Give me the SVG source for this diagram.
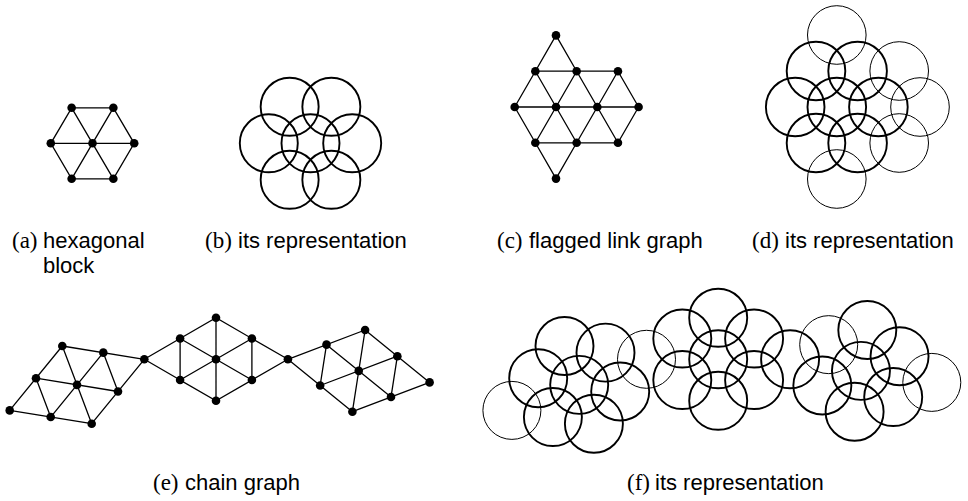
<svg xmlns="http://www.w3.org/2000/svg" width="968" height="501" viewBox="0 0 968 501">
<style>
.e{stroke:#000;stroke-width:1.3;fill:none}
.n{fill:#000}
.cb{fill:none;stroke:#000;stroke-width:1.9}
.ct{fill:none;stroke:#000;stroke-width:1}
.lab{font-family:"Liberation Serif",serif;font-size:23px;fill:#000}
.cap{font-family:"Liberation Sans",Arial,sans-serif;font-size:22px;fill:#000}
</style>
<rect width="968" height="501" fill="#fff"/>

<!-- (a) hexagonal block -->
<g id="a-connectors">
<path class="e" d="M71.65,107.8L113.35,107.8L134.2,143.3L113.35,178.8L71.65,178.8L50.8,143.3Z M92.5,143.3L71.65,107.8 M92.5,143.3L113.35,107.8 M50.8,143.3L134.2,143.3 M92.5,143.3L71.65,178.8 M92.5,143.3L113.35,178.8"/>
</g>
<g id="a-nodes">
<g id="a-n0"><circle class="n" cx="92.5" cy="143.3" r="4.3"/></g>
<g id="a-n1"><circle class="n" cx="71.65" cy="107.8" r="4.3"/></g>
<g id="a-n2"><circle class="n" cx="113.35" cy="107.8" r="4.3"/></g>
<g id="a-n3"><circle class="n" cx="134.2" cy="143.3" r="4.3"/></g>
<g id="a-n4"><circle class="n" cx="113.35" cy="178.8" r="4.3"/></g>
<g id="a-n5"><circle class="n" cx="71.65" cy="178.8" r="4.3"/></g>
<g id="a-n6"><circle class="n" cx="50.8" cy="143.3" r="4.3"/></g>
</g>

<!-- (b) representation -->
<g id="b-circles">
<g id="b-c0"><circle class="cb" cx="310.5" cy="143.3" r="29"/></g>
<g id="b-c1"><circle class="cb" cx="289.65" cy="106.8" r="29"/></g>
<g id="b-c2"><circle class="cb" cx="331.35" cy="106.8" r="29"/></g>
<g id="b-c3"><circle class="cb" cx="352.2" cy="143.3" r="29"/></g>
<g id="b-c4"><circle class="cb" cx="331.35" cy="179.8" r="29"/></g>
<g id="b-c5"><circle class="cb" cx="289.65" cy="179.8" r="29"/></g>
<g id="b-c6"><circle class="cb" cx="268.8" cy="143.3" r="29"/></g>
</g>

<!-- (c) flagged link graph -->
<g id="c-connectors">
<path class="e" d="M556,35.4L535.35,71.2 M556,35.4L576.65,71.2
M535.35,71.2L617.95,71.2
M535.35,71.2L514.7,107 M535.35,71.2L556,107 M576.65,71.2L556,107 M576.65,71.2L597.3,107 M617.95,71.2L597.3,107 M617.95,71.2L638.6,107
M514.7,107L638.6,107
M514.7,107L535.35,142.8 M556,107L535.35,142.8 M556,107L576.65,142.8 M597.3,107L576.65,142.8 M597.3,107L617.95,142.8 M638.6,107L617.95,142.8
M535.35,142.8L617.95,142.8
M535.35,142.8L556,178.6 M576.65,142.8L556,178.6"/>
</g>
<g id="c-nodes">
<g id="c-n1"><circle class="n" cx="556" cy="35.4" r="4.3"/></g>
<g id="c-n2"><circle class="n" cx="535.35" cy="71.2" r="4.3"/></g>
<g id="c-n3"><circle class="n" cx="576.65" cy="71.2" r="4.3"/></g>
<g id="c-n4"><circle class="n" cx="617.95" cy="71.2" r="4.3"/></g>
<g id="c-n5"><circle class="n" cx="514.7" cy="107" r="4.3"/></g>
<g id="c-n6"><circle class="n" cx="556" cy="107" r="4.3"/></g>
<g id="c-n7"><circle class="n" cx="597.3" cy="107" r="4.3"/></g>
<g id="c-n8"><circle class="n" cx="638.6" cy="107" r="4.3"/></g>
<g id="c-n9"><circle class="n" cx="535.35" cy="142.8" r="4.3"/></g>
<g id="c-n10"><circle class="n" cx="576.65" cy="142.8" r="4.3"/></g>
<g id="c-n11"><circle class="n" cx="617.95" cy="142.8" r="4.3"/></g>
<g id="c-n12"><circle class="n" cx="556" cy="178.6" r="4.3"/></g>
</g>

<!-- (d) representation -->
<g id="d-circles">
<g id="d-c1"><circle class="ct" cx="836.8" cy="35" r="29.3"/></g>
<g id="d-c2"><circle class="cb" cx="816" cy="71" r="29.3"/></g>
<g id="d-c3"><circle class="cb" cx="857.6" cy="71" r="29.3"/></g>
<g id="d-c4"><circle class="ct" cx="899.2" cy="71" r="29.3"/></g>
<g id="d-c5"><circle class="cb" cx="795.2" cy="107" r="29.3"/></g>
<g id="d-c6"><circle class="cb" cx="836.8" cy="107" r="29.3"/></g>
<g id="d-c7"><circle class="cb" cx="878.4" cy="107" r="29.3"/></g>
<g id="d-c8"><circle class="ct" cx="920" cy="107" r="29.3"/></g>
<g id="d-c9"><circle class="cb" cx="816" cy="143" r="29.3"/></g>
<g id="d-c10"><circle class="cb" cx="857.6" cy="143" r="29.3"/></g>
<g id="d-c11"><circle class="ct" cx="899.2" cy="143" r="29.3"/></g>
<g id="d-c12"><circle class="ct" cx="836.8" cy="179" r="29.3"/></g>
</g>

<!-- (e) chain graph -->
<g id="e-connectors">
<path class="e" d="M62.3,346L144.3,359.3 M36,378.2L118,391.5 M9.7,410.4L91.7,423.7
M62.3,346L9.7,410.4 M103.3,352.65L50.7,417.05 M144.3,359.3L91.7,423.7
M62.3,346L77,384.85 M103.3,352.65L118,391.5 M36,378.2L50.7,417.05 M77,384.85L91.7,423.7
M144.3,359.3L180.1,338.55 M144.3,359.3L180.1,380.05
M180.1,338.55L216,317.8L251.9,338.55L251.9,380.05L216,400.8L180.1,380.05Z
M216,317.8L216,400.8 M180.1,338.55L251.9,380.05 M180.1,380.05L251.9,338.55
M251.9,338.55L287.9,359.3 M251.9,380.05L287.9,359.3
M287.9,359.3L365.1,330 M320.15,385.5L397.35,356.2 M352.4,411.7L429.6,382.4
M287.9,359.3L352.4,411.7 M326.5,344.65L391,397.05 M365.1,330L429.6,382.4
M326.5,344.65L320.15,385.5 M365.1,330L352.4,411.7 M397.35,356.2L391,397.05"/>
</g>
<g id="e-nodes">
<g id="e-a1"><circle class="n" cx="62.3" cy="346" r="4.3"/></g>
<g id="e-a2"><circle class="n" cx="103.3" cy="352.65" r="4.3"/></g>
<g id="e-b"><circle class="n" cx="144.3" cy="359.3" r="4.3"/></g>
<g id="e-a3"><circle class="n" cx="36" cy="378.2" r="4.3"/></g>
<g id="e-a4"><circle class="n" cx="77" cy="384.85" r="4.3"/></g>
<g id="e-a5"><circle class="n" cx="118" cy="391.5" r="4.3"/></g>
<g id="e-a6"><circle class="n" cx="9.7" cy="410.4" r="4.3"/></g>
<g id="e-a7"><circle class="n" cx="50.7" cy="417.05" r="4.3"/></g>
<g id="e-a8"><circle class="n" cx="91.7" cy="423.7" r="4.3"/></g>
<g id="e-h0"><circle class="n" cx="216" cy="359.3" r="4.3"/></g>
<g id="e-h1"><circle class="n" cx="216" cy="317.8" r="4.3"/></g>
<g id="e-h2"><circle class="n" cx="251.9" cy="338.55" r="4.3"/></g>
<g id="e-h3"><circle class="n" cx="251.9" cy="380.05" r="4.3"/></g>
<g id="e-h4"><circle class="n" cx="216" cy="400.8" r="4.3"/></g>
<g id="e-h5"><circle class="n" cx="180.1" cy="380.05" r="4.3"/></g>
<g id="e-h6"><circle class="n" cx="180.1" cy="338.55" r="4.3"/></g>
<g id="e-c2"><circle class="n" cx="287.9" cy="359.3" r="4.3"/></g>
<g id="e-d1"><circle class="n" cx="326.5" cy="344.65" r="4.3"/></g>
<g id="e-d2"><circle class="n" cx="365.1" cy="330" r="4.3"/></g>
<g id="e-d3"><circle class="n" cx="320.15" cy="385.5" r="4.3"/></g>
<g id="e-d4"><circle class="n" cx="358.75" cy="370.85" r="4.3"/></g>
<g id="e-d5"><circle class="n" cx="397.35" cy="356.2" r="4.3"/></g>
<g id="e-d6"><circle class="n" cx="352.4" cy="411.7" r="4.3"/></g>
<g id="e-d7"><circle class="n" cx="391" cy="397.05" r="4.3"/></g>
<g id="e-d8"><circle class="n" cx="429.6" cy="382.4" r="4.3"/></g>
</g>

<!-- (f) representation -->
<g id="f-circles" transform="translate(502.2,0)">
<g id="f-a1"><circle class="cb" cx="62.3" cy="346" r="29"/></g>
<g id="f-a2"><circle class="cb" cx="103.3" cy="352.65" r="29"/></g>
<g id="f-b"><circle class="ct" cx="144.3" cy="359.3" r="29"/></g>
<g id="f-a3"><circle class="cb" cx="36" cy="378.2" r="29"/></g>
<g id="f-a4"><circle class="cb" cx="77" cy="384.85" r="29"/></g>
<g id="f-a5"><circle class="cb" cx="118" cy="391.5" r="29"/></g>
<g id="f-a6"><circle class="ct" cx="9.7" cy="410.4" r="29"/></g>
<g id="f-a7"><circle class="cb" cx="50.7" cy="417.05" r="29"/></g>
<g id="f-a8"><circle class="cb" cx="91.7" cy="423.7" r="29"/></g>
<g id="f-h0"><circle class="cb" cx="216" cy="359.3" r="29"/></g>
<g id="f-h1"><circle class="cb" cx="216" cy="317.8" r="29"/></g>
<g id="f-h2"><circle class="cb" cx="251.9" cy="338.55" r="29"/></g>
<g id="f-h3"><circle class="cb" cx="251.9" cy="380.05" r="29"/></g>
<g id="f-h4"><circle class="cb" cx="216" cy="400.8" r="29"/></g>
<g id="f-h5"><circle class="cb" cx="180.1" cy="380.05" r="29"/></g>
<g id="f-h6"><circle class="cb" cx="180.1" cy="338.55" r="29"/></g>
<g id="f-c2"><circle class="cb" cx="287.9" cy="359.3" r="29"/></g>
<g id="f-d1"><circle class="ct" cx="326.5" cy="344.65" r="29"/></g>
<g id="f-d2"><circle class="cb" cx="365.1" cy="330" r="29"/></g>
<g id="f-d3"><circle class="cb" cx="320.15" cy="385.5" r="29"/></g>
<g id="f-d4"><circle class="cb" cx="358.75" cy="370.85" r="29"/></g>
<g id="f-d5"><circle class="cb" cx="397.35" cy="356.2" r="29"/></g>
<g id="f-d6"><circle class="cb" cx="352.4" cy="411.7" r="29"/></g>
<g id="f-d7"><circle class="cb" cx="391" cy="397.05" r="29"/></g>
<g id="f-d8"><circle class="ct" cx="429.6" cy="382.4" r="29"/></g>
</g>

<!-- captions -->
<g id="captions">
<text class="lab" x="12" y="248">(a)</text>
<text class="cap" x="43" y="248">hexagonal</text>
<text class="cap" x="43" y="273">block</text>
<text class="lab" x="205" y="248">(b)</text>
<text class="cap" x="238" y="248">its representation</text>
<text class="lab" x="497" y="248">(c)</text>
<text class="cap" x="529" y="248">flagged link graph</text>
<text class="lab" x="752" y="248">(d)</text>
<text class="cap" x="785" y="248">its representation</text>
<text class="lab" x="153" y="490">(e)</text>
<text class="cap" x="185" y="490">chain graph</text>
<text class="lab" x="627" y="490">(f)</text>
<text class="cap" x="655" y="490">its representation</text>
</g>
</svg>
